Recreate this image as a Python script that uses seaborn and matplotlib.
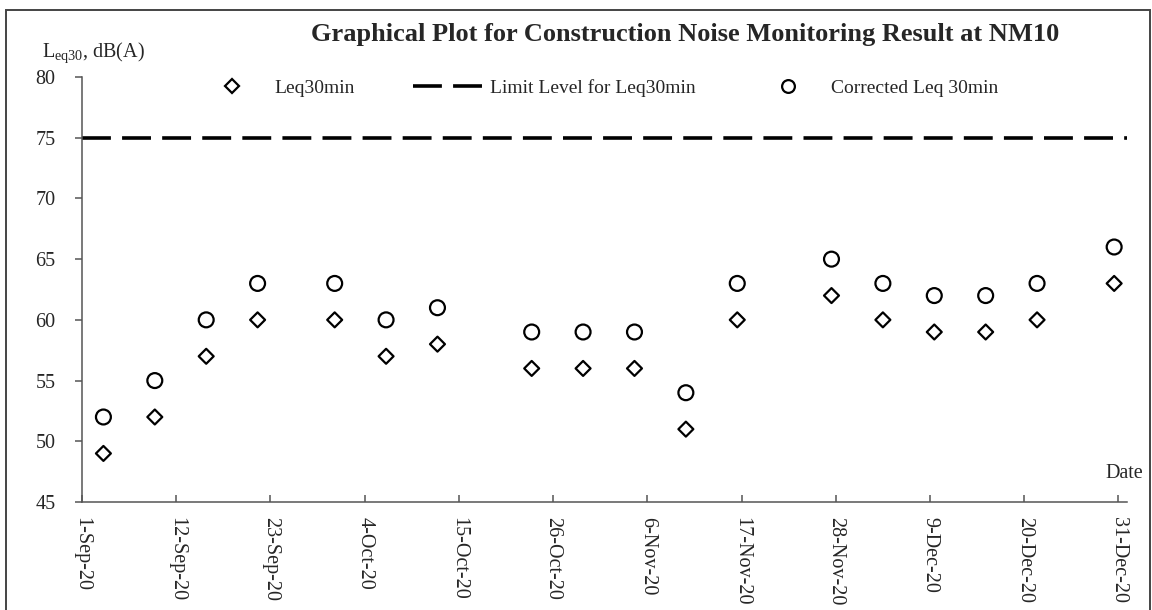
import matplotlib
matplotlib.use("Agg")
import matplotlib.pyplot as plt
from matplotlib.lines import Line2D
from matplotlib.patches import Rectangle
import seaborn as sns
import pandas as pd

# Monitoring dates and measured levels at NM10
dates = ["2020-09-03", "2020-09-09", "2020-09-15", "2020-09-21", "2020-09-30",
         "2020-10-06", "2020-10-12", "2020-10-23", "2020-10-29", "2020-11-04",
         "2020-11-10", "2020-11-16", "2020-11-27", "2020-12-03", "2020-12-09",
         "2020-12-15", "2020-12-21", "2020-12-30"]
leq30 = [49, 52, 57, 60, 60, 57, 58, 56, 56, 56, 51, 60, 62, 60, 59, 59, 60, 63]
corrected_leq30 = [52, 55, 60, 63, 63, 60, 61, 59, 59, 59, 54, 63, 65, 63, 62, 62, 63, 66]
limit_level = 75

y_ticks = [45, 50, 55, 60, 65, 70, 75, 80]
x_start, x_end = "2020-09-01", "2021-01-01"
x_tick_step_days = 11

sns.set_theme(style="white")
plt.rcParams["font.family"] = ["Liberation Serif", "DejaVu Serif"]
plt.rcParams["mathtext.fontset"] = "custom"
plt.rcParams["mathtext.rm"] = "Liberation Serif"
plt.rcParams["mathtext.it"] = "Liberation Serif:italic"

df = pd.DataFrame({
    # each reading sits in the middle of its day cell
    "date": pd.to_datetime(dates) + pd.Timedelta(hours=12),
    "leq": leq30,
    "corr": corrected_leq30,
})

W, H = 1152, 610
fig = plt.figure(figsize=(W / 100, H / 100), dpi=100)
ax = fig.add_axes([82 / W, 1 - 502 / H, (1127 - 82) / W, (502 - 77) / H])

sns.scatterplot(data=df, x="date", y="corr", ax=ax, marker="o", s=115,
                facecolor="none", edgecolor="black", linewidth=1.6, zorder=3)
sns.scatterplot(data=df, x="date", y="leq", ax=ax, marker="D", s=58,
                facecolor="none", edgecolor="black", linewidth=1.6, zorder=3)
ax.axhline(limit_level, color="black", lw=2.6, dashes=(8.0, 3.1), zorder=2)

x0, x1 = pd.Timestamp(x_start), pd.Timestamp(x_end)
ax.set_xlim(x0, x1)
ax.set_ylim(y_ticks[0], y_ticks[-1])
ax.set_yticks(y_ticks)
ticks = pd.date_range(x0, x1 - pd.Timedelta(days=1), freq=f"{x_tick_step_days}D")
ax.set_xticks(ticks)
ax.set_xticklabels([f"{d.day}-{d:%b-%y}" for d in ticks], rotation=-90,
                   ha="center", va="top")
ax.set_xlabel("")
ax.set_ylabel("")

for side in ("top", "right"):
    ax.spines[side].set_visible(False)
for side in ("left", "bottom"):
    ax.spines[side].set_color("#555555")
    ax.spines[side].set_linewidth(1.1)
ax.tick_params(axis="y", direction="out", length=5, width=1.1, color="#555555",
               pad=14, labelsize=14.5, left=True)
ax.tick_params(axis="x", direction="in", length=5, width=1.1, color="#555555",
               pad=11, labelsize=14.5, bottom=True)

# chart area frame
fig.patches.append(Rectangle((6 / W, -0.05), (1150 - 6) / W, 1.05 - 10 / H,
                             transform=fig.transFigure, fill=False,
                             edgecolor="#444444", lw=1.4, zorder=0))

fig.text(685 / W, 1 - 35 / H,
         "Graphical Plot for Construction Noise Monitoring Result at NM10",
         ha="center", va="center", fontsize=19, fontweight="bold")
fig.text(42 / W, 1 - 57 / H, r"L$_{\mathrm{eq30}}$, dB(A)",
         ha="left", va="baseline", fontsize=14.5)
fig.text(1143 / W, 1 - 474 / H, "Date", ha="right", va="center", fontsize=14.5)

handles = [
    Line2D([], [], ls="none", marker="D", ms=7, mfc="none", mec="black", mew=1.6),
    Line2D([], [], color="black", lw=2.6, dashes=(8.0, 3.1)),
    Line2D([], [], ls="none", marker="o", ms=9.2, mfc="none", mec="black", mew=1.6),
]
labels = ["Leq30min", "Limit Level for Leq30min", "Corrected Leq 30min"]
fig.legend(handles, labels, loc="center left", bbox_to_anchor=(197 / W, 1 - 88 / H),
           ncol=3, frameon=False, fontsize=14, handlelength=3.55,
           handletextpad=0.41, columnspacing=3.0, borderpad=0, borderaxespad=0,
           numpoints=1)

fig.savefig("out.png", dpi=100)
